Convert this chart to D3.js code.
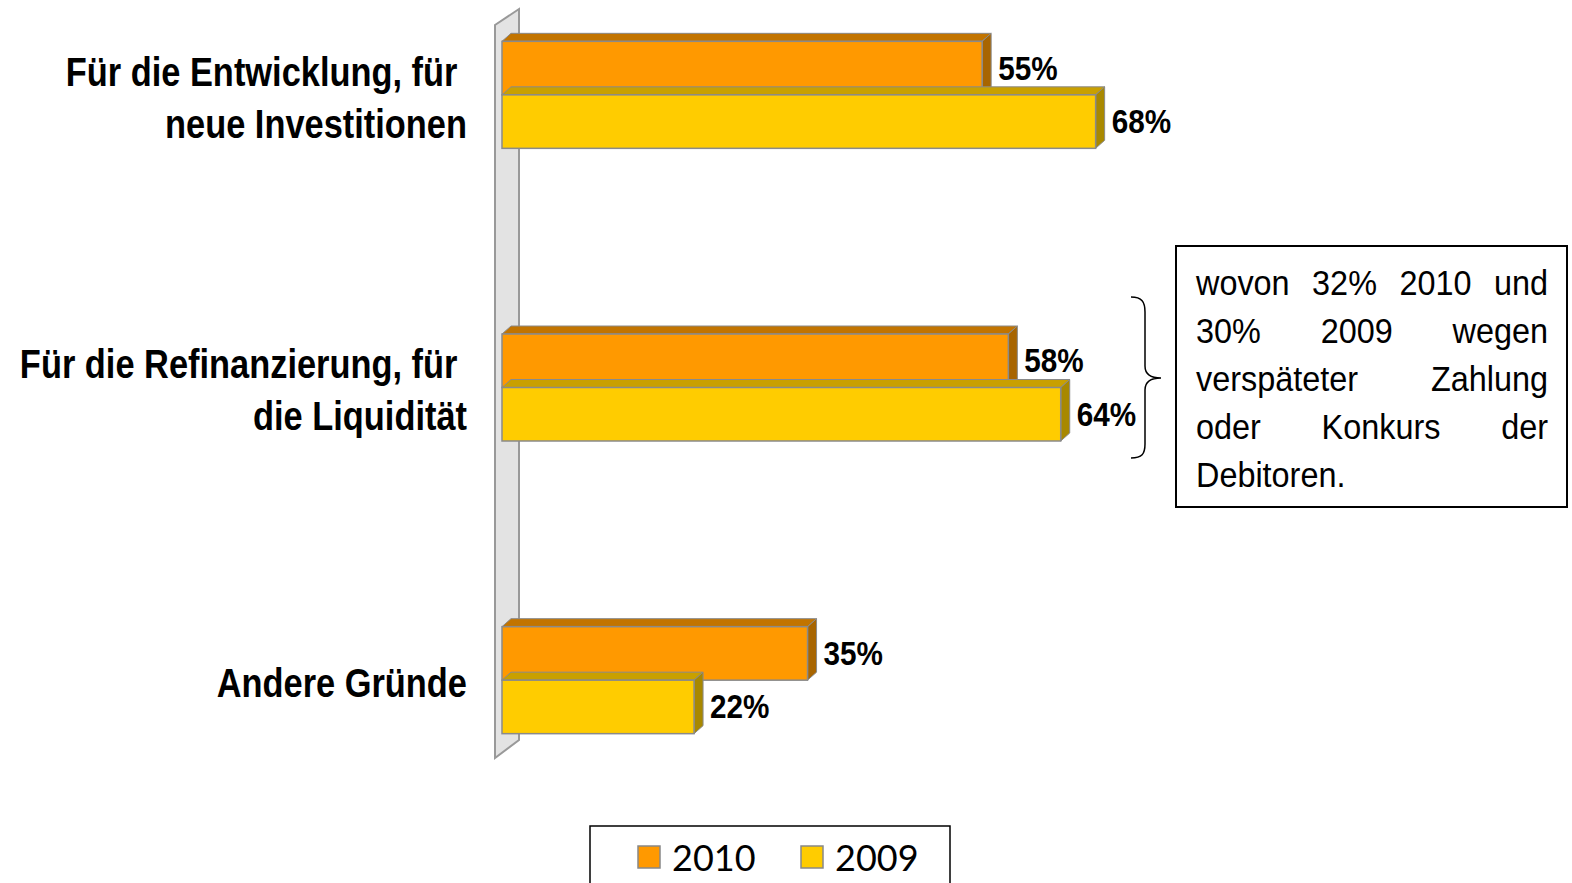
<!DOCTYPE html>
<html>
<head>
<meta charset="utf-8">
<script src="https://cdn.jsdelivr.net/npm/d3@7"></script>
<style>
  body { margin: 0; background: #fff; }
  svg { display: block; }
  .cat { font-family: "Liberation Sans Narrow", "Liberation Sans", Arial, sans-serif; font-weight: bold; font-size: 40px; }
  .val { font-family: "Liberation Sans Narrow", "Liberation Sans", Arial, sans-serif; font-weight: bold; font-size: 33px; }
  .note { font-family: "Liberation Sans Narrow", "Liberation Sans", Arial, sans-serif; font-size: 36px; }
  .leg { font-family: Lato, "Open Sans", sans-serif; font-size: 36px; }
</style>
</head>
<body>
<script>
// data
let categories = [
    ["Für die Entwicklung, für ", "neue Investitionen"],
    ["Für die Refinanzierung, für ", "die Liquidität"],
    ["Andere Gründe"]
];
let series = ["2010", "2009"];
let values2010 = [55, 58, 35];
let values2009 = [68, 64, 22];
let noteLines = ["wovon 32% 2010 und", "30% 2009 wegen", "verspäteter Zahlung", "oder Konkurs der", "Debitoren."];

let width = 1572, height = 883;
// no Arial Narrow installed, so squeeze the regular face horizontally
let catSqueeze = 0.86, valSqueeze = 0.9, noteSqueeze = 0.9;
let colors = {"2010": {front: "#FF9900", top: "#C27400", side: "#A86500"},
              "2009": {front: "#FFCC00", top: "#C9A000", side: "#A88800"}};
let depth = {x: 9, y: -8};

let svg = d3.select("body").append("svg")
    .attr("width", width)
    .attr("height", height);

let x = d3.scaleLinear().domain([0, 100]).range([502, 1375]);
let y = d3.scaleBand().domain(d3.range(categories.length)).range([-51.5, 826.5]).padding(0);
let ys = d3.scaleBand().domain(series).range([-53.5, 53.5]);

// back wall
svg.append("path")
    .attr("d", "M495,25 L519,9 L519,740 L495,758 Z")
    .attr("fill", "#E3E3E3")
    .attr("stroke", "#999")
    .attr("stroke-width", 2);

let data = [];
categories.forEach(function (c, i) {
    data.push({cat: i, s: "2010", v: values2010[i]});
    data.push({cat: i, s: "2009", v: values2009[i]});
});

let bars = svg.append("g").selectAll(".bar")
    .data(data).enter().append("g").attr("class", "bar");

function yTop(d) { return y(d.cat) + y.bandwidth() / 2 + ys(d.s); }

// top face
bars.append("path")
    .attr("d", function (d) {
        let x0 = x(0), x1 = x(d.v), t = yTop(d);
        return "M" + x0 + "," + t + " L" + (x0 + depth.x) + "," + (t + depth.y) +
            " L" + (x1 + depth.x) + "," + (t + depth.y) + " L" + x1 + "," + t + " Z";
    })
    .attr("fill", function (d) { return colors[d.s].top; })
    .attr("stroke", "#8a8a8a").attr("stroke-width", 1);
// side face
bars.append("path")
    .attr("d", function (d) {
        let x1 = x(d.v), t = yTop(d), b = t + ys.bandwidth();
        return "M" + x1 + "," + t + " L" + (x1 + depth.x) + "," + (t + depth.y) +
            " L" + (x1 + depth.x) + "," + (b + depth.y) + " L" + x1 + "," + b + " Z";
    })
    .attr("fill", function (d) { return colors[d.s].side; })
    .attr("stroke", "#8a8a8a").attr("stroke-width", 1);
// front face
bars.append("rect")
    .attr("x", x(0))
    .attr("y", yTop)
    .attr("width", function (d) { return x(d.v) - x(0); })
    .attr("height", ys.bandwidth())
    .attr("fill", function (d) { return colors[d.s].front; })
    .attr("stroke", "#8a8a8a").attr("stroke-width", 1.5);

// value labels
bars.append("text")
    .attr("class", "val")
    .attr("transform", function (d) {
        return "translate(" + (x(d.v) + depth.x + 7) + "," + (yTop(d) + ys.bandwidth() / 2) + ") scale(" + valSqueeze + ",1)";
    })
    .attr("dy", "0.35em")
    .text(function (d) { return d.v + "%"; });

// category labels
let cats = svg.append("g").selectAll(".cat")
    .data(categories).enter().append("text")
    .attr("class", "cat")
    .attr("text-anchor", "end")
    .style("white-space", "pre")
    .attr("transform", "translate(467,0) scale(" + catSqueeze + ",1)");
cats.each(function (lines, i) {
    let c = y(i) + y.bandwidth() / 2 + 3;
    let lh = 52;
    let start = c - (lines.length - 1) * lh / 2;
    d3.select(this).selectAll("tspan")
        .data(lines).enter().append("tspan")
        .attr("x", 0)
        .attr("y", function (l, k) { return start + k * lh; })
        .attr("dy", "0.35em")
        .text(function (l) { return l; });
});

// brace
svg.append("path")
    .attr("d", "M1131,297 C1142,297 1145,302 1145,312 L1145,366 C1145,374 1150,378 1161,378 C1150,378 1145,382 1145,390 L1145,444 C1145,454 1142,458 1131,458")
    .attr("fill", "none")
    .attr("stroke", "#000")
    .attr("stroke-width", 1.5);

// note box
svg.append("rect")
    .attr("x", 1176).attr("y", 246)
    .attr("width", 391).attr("height", 261)
    .attr("fill", "#fff").attr("stroke", "#000").attr("stroke-width", 2);

let noteLeft = 1196, noteRight = 1548;
let note = svg.append("g");
noteLines.forEach(function (line, i) {
    let words = line.split(" ");
    let by = 282 + i * 48;
    let texts = words.map(function (w) {
        return note.append("text").attr("class", "note").attr("dy", "0.35em").text(w);
    });
    let widths = texts.map(function (t) { return t.node().getComputedTextLength() * noteSqueeze; });
    let gap = 9;
    if (i < noteLines.length - 1 && words.length > 1) {
        gap = (noteRight - noteLeft - d3.sum(widths)) / (words.length - 1);
    }
    let cx = noteLeft;
    texts.forEach(function (t, k) {
        t.attr("transform", "translate(" + cx + "," + by + ") scale(" + noteSqueeze + ",1)");
        cx += widths[k] + gap;
    });
});

// legend
let legend = svg.append("g");
legend.append("rect")
    .attr("x", 590).attr("y", 826)
    .attr("width", 360).attr("height", 80)
    .attr("fill", "#fff").attr("stroke", "#000").attr("stroke-width", 1.5);
let legX = {"2010": 638, "2009": 801};
let items = legend.selectAll(".item").data(series).enter().append("g").attr("class", "item");
items.append("rect")
    .attr("x", function (d) { return legX[d]; })
    .attr("y", 846)
    .attr("width", 22).attr("height", 22)
    .attr("fill", function (d) { return colors[d].front; })
    .attr("stroke", "#888").attr("stroke-width", 1.5);
items.append("text")
    .attr("class", "leg")
    .attr("x", function (d) { return legX[d] + 34; })
    .attr("y", 858)
    .attr("dy", "0.35em")
    .text(function (d) { return d; });
</script>
</body>
</html>
